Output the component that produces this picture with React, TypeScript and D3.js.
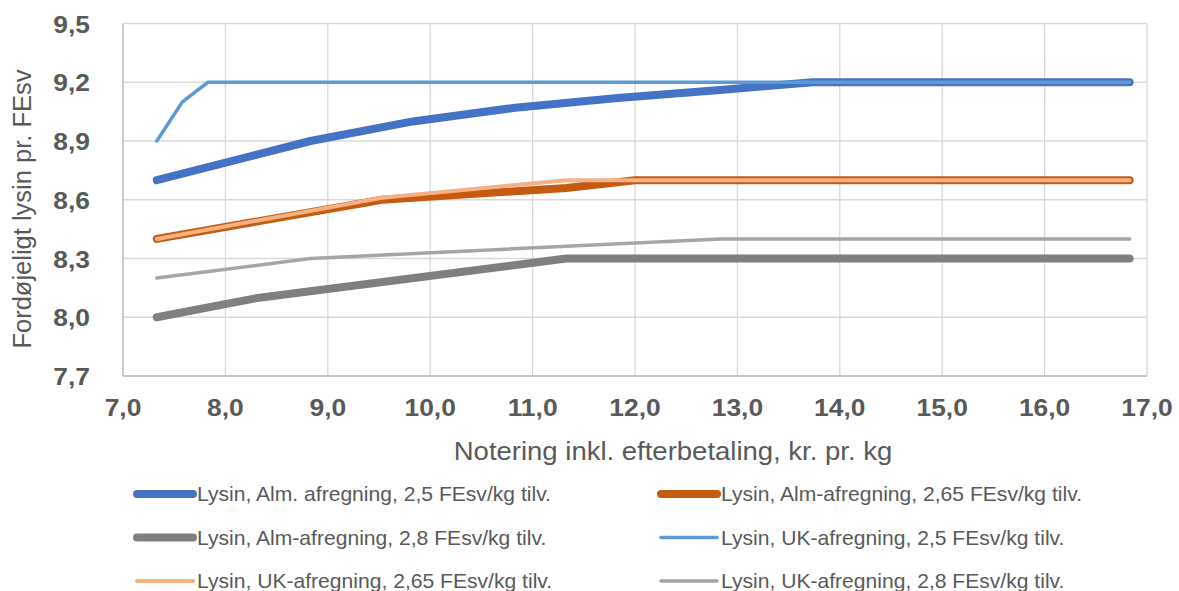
import React from 'react';
import * as d3 from 'd3';

// prices (kr. pr. kg) and lysin levels
const almX25 = [7.33, 8.83, 9.83, 10.83, 11.83, 12.83, 13.73, 16.83];
const almY25 = [8.7, 8.9, 9.0, 9.07, 9.12, 9.16, 9.2, 9.2];
const almX265 = [7.33, 9.53, 11.33, 12.0, 16.83];
const almY265 = [8.4, 8.6, 8.66, 8.7, 8.7];
const almX28 = [7.33, 8.33, 11.33, 16.83];
const almY28 = [8.0, 8.1, 8.3, 8.3];
const ukX25 = [7.33, 7.58, 7.83, 16.83];
const ukY25 = [8.9, 9.1, 9.2, 9.2];
const ukX265 = [7.33, 9.53, 11.33, 16.83];
const ukY265 = [8.4, 8.61, 8.7, 8.7];
const ukX28 = [7.33, 8.83, 12.83, 16.83];
const ukY28 = [8.2, 8.3, 8.4, 8.4];

const xTicks = [7, 8, 9, 10, 11, 12, 13, 14, 15, 16, 17];
const yTicks = [7.7, 8.0, 8.3, 8.6, 8.9, 9.2, 9.5];

const series = [
  { name: 'Lysin, Alm. afregning, 2,5 FEsv/kg tilv.', xs: almX25, ys: almY25, color: '#4472C4', w: 8 },
  { name: 'Lysin, Alm-afregning, 2,65 FEsv/kg tilv.', xs: almX265, ys: almY265, color: '#C55A11', w: 8 },
  { name: 'Lysin, Alm-afregning, 2,8 FEsv/kg tilv.', xs: almX28, ys: almY28, color: '#7F7F7F', w: 8 },
  { name: 'Lysin, UK-afregning, 2,5 FEsv/kg tilv.', xs: ukX25, ys: ukY25, color: '#5B9BD5', w: 3.5 },
  { name: 'Lysin, UK-afregning, 2,65 FEsv/kg tilv.', xs: ukX265, ys: ukY265, color: '#F4B183', w: 4 },
  { name: 'Lysin, UK-afregning, 2,8 FEsv/kg tilv.', xs: ukX28, ys: ukY28, color: '#A5A5A5', w: 3.5 },
];

const W = 1179;
const H = 591;
const fmt = (v: number) => v.toFixed(1).replace('.', ',');
const FONT = 'Liberation Sans, Arial, sans-serif';
const TXT = '#595959';

// the original text is a little wider than Arial at the same height
function Txt(props: { x: number; y: number; sx: number; size: number; anchor?: string; bold?: boolean; children: React.ReactNode }) {
  const { x, y, sx, size, anchor, bold, children } = props;
  return (
    <text
      transform={`translate(${x},${y}) scale(${sx},1)`}
      textAnchor={anchor || 'start'}
      fontSize={size}
      fontWeight={bold ? 'bold' : 'normal'}
      fill={TXT}
    >
      {children}
    </text>
  );
}

export default function App() {
  const x = d3.scaleLinear().domain([7, 17]).range([123, 1147]);
  const y = d3.scaleLinear().domain([7.7, 9.5]).range([376, 23.5]);

  const line = d3.line<[number, number]>()
    .x(d => x(d[0]))
    .y(d => y(d[1]));

  return (
    <div style={{ position: 'fixed', left: 0, top: 0 }}>
      <svg width={W} height={H} style={{ display: 'block', background: '#fff' }} fontFamily={FONT}>
        {/* gridlines */}
        {xTicks.map(t => (
          <line key={'gx' + t} x1={x(t)} x2={x(t)} y1={y(9.5)} y2={y(7.7)} stroke="#D9D9D9" strokeWidth={1.3} />
        ))}
        {yTicks.map(t => (
          <line key={'gy' + t} x1={x(7)} x2={x(17)} y1={y(t)} y2={y(t)} stroke="#D9D9D9" strokeWidth={1.3} />
        ))}
        <line x1={x(7)} x2={x(7)} y1={y(9.5)} y2={y(7.7)} stroke="#BFBFBF" strokeWidth={1.3} />
        <line x1={x(7)} x2={x(17)} y1={y(7.7)} y2={y(7.7)} stroke="#BFBFBF" strokeWidth={1.3} />

        {/* series */}
        {series.map(s => (
          <path
            key={s.name}
            d={line(s.xs.map((v, i) => [v, s.ys[i]] as [number, number])) || ''}
            fill="none"
            stroke={s.color}
            strokeWidth={s.w}
            strokeLinecap="round"
            strokeLinejoin="round"
          />
        ))}

        {/* tick labels */}
        {xTicks.map(t => (
          <Txt key={'tx' + t} x={x(t)} y={416} sx={1.1} size={24} anchor="middle" bold>
            {fmt(t)}
          </Txt>
        ))}
        {yTicks.map(t => (
          <Txt key={'ty' + t} x={90} y={y(t) + 9} sx={1.1} size={24} anchor="end" bold>
            {fmt(t)}
          </Txt>
        ))}

        {/* axis titles */}
        <Txt x={673} y={460} sx={1.1} size={25} anchor="middle">
          Notering inkl. efterbetaling, kr. pr. kg
        </Txt>
        <text transform="translate(31,209) rotate(-90)" textAnchor="middle" fontSize={25.5} fill={TXT}>
          Fordøjeligt lysin pr. FEsv
        </text>

        {/* legend */}
        {series.map((s, i) => {
          const col = i % 2;
          const row = Math.floor(i / 2);
          const lx = col === 0 ? 137 : 661;
          const ly = 494 + row * 43.5;
          return (
            <g key={'lg' + i}>
              <line x1={lx} x2={lx + 56} y1={ly} y2={ly} stroke={s.color} strokeWidth={s.w} strokeLinecap="round" />
              <Txt x={lx + 60} y={ly + 7} sx={1.055} size={20}>
                {s.name}
              </Txt>
            </g>
          );
        })}
      </svg>
    </div>
  );
}
